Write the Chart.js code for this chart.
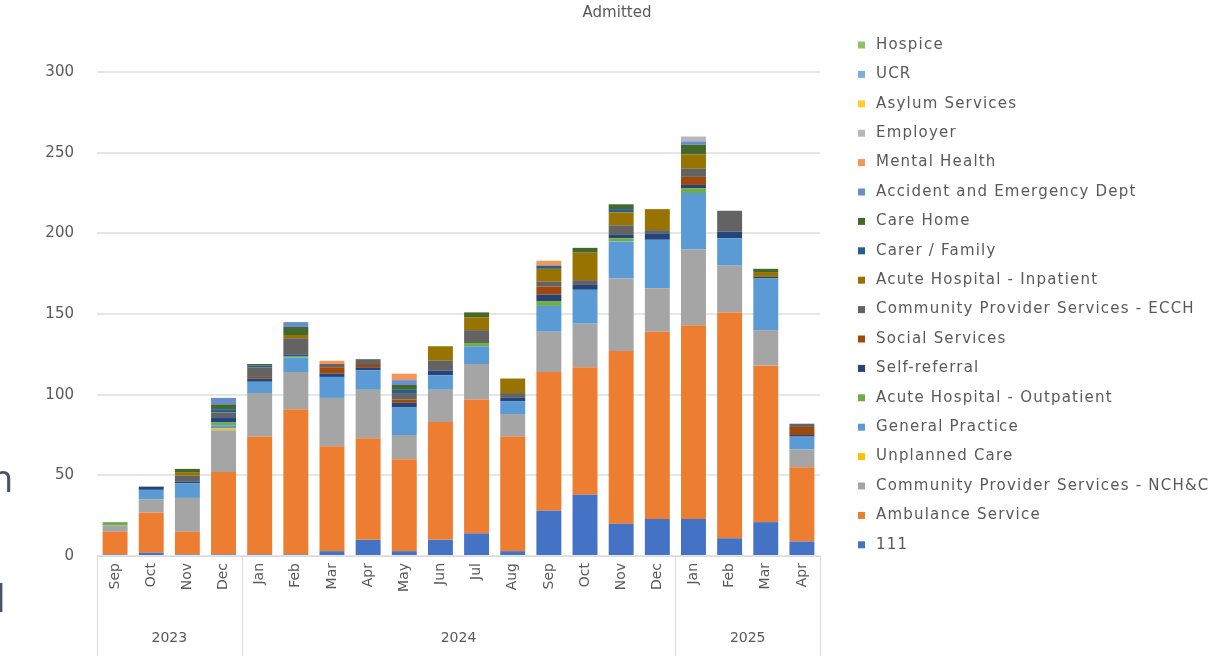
<!DOCTYPE html>
<html>
<head>
<meta charset="utf-8">
<script src="https://cdn.jsdelivr.net/npm/chart.js@4"></script>
<style>
html,body{margin:0;padding:0;background:#fff;overflow:hidden}
#wrap{position:relative;width:1216px;height:656px;overflow:hidden}
#c{position:absolute;left:0;top:0}
.cut{position:absolute;font-family:"Open Sans",sans-serif;color:#44546a;font-size:38px;line-height:38px}
</style>
</head>
<body>
<div id="wrap">
  <canvas id="c" width="1216" height="656"></canvas>
  <span class="cut" style="left:-10px;top:458px">n</span>
  <span class="cut" style="left:-4px;top:578px">l</span>
</div>
<script>
const FONT = '"DejaVu Sans", sans-serif';
const GREY = "#595959";

const months = ["Sep","Oct","Nov","Dec","Jan","Feb","Mar","Apr","May","Jun","Jul","Aug","Sep","Oct","Nov","Dec","Jan","Feb","Mar","Apr"];
const years = ["2023","2024","2025"];
const monthsPerYear = [4,12,4];

// stack order, bottom to top
const s111        = [1,2,1,1,1,1,3,10,3,10,14,3,28,38,20,23,23,11,21,9];
const ambulance   = [14,25,14,51,73,90,65,63,57,73,83,71,86,79,107,116,120,140,97,46];
const commNCHC    = [4,8,21,26,27,23,30,30,15,20,22,14,25,27,45,27,47,29,22,11];
const unplanned   = [0,0,0,1,0,0,0,0,0,0,0,0,0,0,0,0,0,0,0,0];
const gp          = [0,6,9,2,7,9,13,12,17,9,11,8,16,21,23,30,35,17,32,8];
const outpatient  = [2,0,0,2,0,1,0,0,0,0,2,0,3,0,2,0,3,0,0,0];
const selfRef     = [0,2,1,3,2,1,2,2,3,3,0,2,4,3,2,4,2,4,1,1];
const social      = [0,0,0,0,1,0,4,2,2,0,0,0,5,0,0,0,5,0,0,5];
const commECCH    = [0,0,4,3,6,10,2,3,4,6,8,3,3,3,6,2,5,13,0,2];
const inpatient   = [0,0,2,0,0,2,0,0,0,9,8,9,8,17,8,13,9,0,3,0];
const carer       = [0,0,0,2,1,0,0,0,2,0,0,0,2,0,2,0,0,0,0,0];
const careHome    = [0,0,2,3,1,5,0,0,3,0,3,0,0,3,3,0,6,0,2,0];
const aAndE       = [0,0,0,4,0,3,0,0,3,0,0,0,0,0,0,0,2,0,0,0];
const mentalHealth= [0,0,0,0,0,0,2,0,4,0,0,0,3,0,0,0,0,0,0,0];
const employer    = [0,0,0,0,0,0,0,0,0,0,0,0,0,0,0,0,3,0,0,0];
const asylum      = [0,0,0,0,0,0,0,0,0,0,0,0,0,0,0,0,0,0,0,0];
const ucr         = [0,0,0,0,0,0,0,0,0,0,0,0,0,0,0,0,0,0,0,0];
const hospice     = [0,0,0,0,0,0,0,0,0,0,0,0,0,0,0,0,0,0,0,0];

const seriesNames = ["111","Ambulance Service","Community Provider Services - NCH&C","Unplanned Care","General Practice",
  "Acute Hospital - Outpatient","Self-referral","Social Services","Community Provider Services - ECCH","Acute Hospital - Inpatient",
  "Carer / Family","Care Home","Accident and Emergency Dept","Mental Health","Employer","Asylum Services","UCR","Hospice"];
const seriesValues = [s111,ambulance,commNCHC,unplanned,gp,outpatient,selfRef,social,commECCH,inpatient,
  carer,careHome,aAndE,mentalHealth,employer,asylum,ucr,hospice];
const seriesColors = ["#4472C4","#ED7D31","#A5A5A5","#FFC000","#5B9BD5","#70AD47","#264478","#9E480E","#636363","#997300",
  "#255E91","#43682B","#698ED0","#F1975A","#B7B7B7","#FFCD33","#7CAFDD","#8CC168"];

// year row under the month labels
const yearAxis = {
  id:"yearAxis",
  afterDraw(chart){
    const {ctx, chartArea:a} = chart, xs = chart.scales.x;
    ctx.save();
    ctx.strokeStyle = "#d9d9d9";
    ctx.lineWidth = 1;
    ctx.fillStyle = GREY;
    ctx.font = "14px " + FONT;
    ctx.textAlign = "center";
    ctx.textBaseline = "middle";
    let i0 = 0;
    years.forEach((yr,k)=>{
      const n = monthsPerYear[k];
      const left = i0===0 ? a.left : (xs.getPixelForValue(i0-1)+xs.getPixelForValue(i0))/2;
      const right = i0+n>=months.length ? a.right : (xs.getPixelForValue(i0+n-1)+xs.getPixelForValue(i0+n))/2;
      [left,right].forEach(x=>{
        ctx.beginPath();
        ctx.moveTo(Math.round(x)+0.5, a.bottom);
        ctx.lineTo(Math.round(x)+0.5, chart.height);
        ctx.stroke();
      });
      ctx.fillText(yr, (left+right)/2, a.bottom + 82);
      i0 += n;
    });
    ctx.restore();
  }
};

// legend on the right, top item = last series
const sideLegend = {
  id:"sideLegend",
  afterDraw(chart){
    const ctx = chart.ctx;
    const items = chart.data.datasets.slice().reverse();
    const x = chart.chartArea.right + 38, y0 = 45, step = 29.4;
    ctx.save();
    ctx.font = "15px " + FONT;
    ctx.letterSpacing = "1.2px";
    ctx.textBaseline = "middle";
    ctx.textAlign = "left";
    items.forEach((ds,i)=>{
      const y = y0 + i*step;
      ctx.fillStyle = ds.backgroundColor;
      ctx.fillRect(x, y-3.5, 7, 7);
      ctx.fillStyle = GREY;
      ctx.fillText(ds.label, x+18, y);
    });
    ctx.restore();
  }
};

const datasets = seriesNames.map((name,i)=>({
  label:name,
  data:seriesValues[i],
  backgroundColor:seriesColors[i],
  borderWidth:0,
  barPercentage:0.69,
  categoryPercentage:1
}));

new Chart(document.getElementById("c"),{
  type:"bar",
  data:{labels:months, datasets},
  plugins:[yearAxis, sideLegend],
  options:{
    responsive:false,
    animation:false,
    layout:{padding:{left:18,right:0,top:0,bottom:0}},
    plugins:{
      legend:{display:false},
      tooltip:{enabled:false},
      title:{display:true,text:"Admitted",color:GREY,font:{family:FONT,size:15,weight:"normal"},padding:{top:4,bottom:50}}
    },
    scales:{
      x:{
        stacked:true,
        grid:{display:false,drawTicks:false},
        border:{display:true,color:"#d9d9d9"},
        ticks:{color:GREY,font:{family:FONT,size:14},minRotation:90,maxRotation:90,autoSkip:false,padding:7},
        afterFit(s){ s.height = 100; }
      },
      y:{
        stacked:true,min:0,max:300,
        ticks:{stepSize:50,color:GREY,font:{family:FONT,size:15},padding:23},
        grid:{color:"#e6e6e6",lineWidth:2,drawTicks:false},
        border:{display:false},
        afterFit(s){ s.width = 79; }
      },
      spacer:{
        type:"linear",position:"right",display:true,
        grid:{display:false},ticks:{display:false},border:{display:false},
        afterFit(s){ s.width = 396; }
      }
    }
  }
});
</script>
</body>
</html>
